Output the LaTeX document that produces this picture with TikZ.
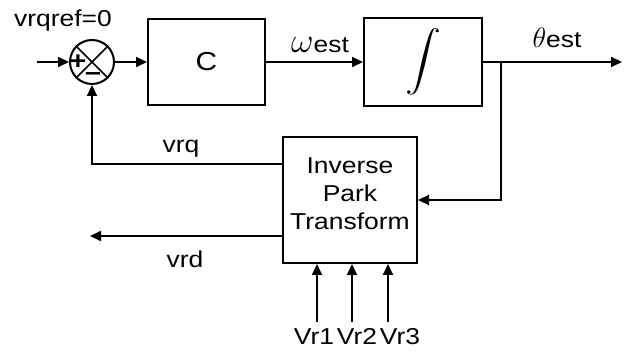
\documentclass[tikz,border=0pt]{standalone}
\usepackage{fontspec}
\setmainfont{Liberation Sans}[FakeStretch=1.15]
\usetikzlibrary{arrows.meta,positioning,calc}

\begin{document}
\begin{tikzpicture}[x=1pt,y=-1pt,
  blk/.style={draw,line width=2pt,inner sep=0pt,align=center,
              font=\fontsize{23}{28}\selectfont},
  arr/.style={-{Triangle[length=11pt,width=10pt]},line width=2pt},
  lbl/.style={font=\fontsize{23}{28}\selectfont,inner sep=0pt,anchor=base},
  sgn/.style={font=\fontsize{25}{25}\selectfont\bfseries,inner sep=0pt},
]
\useasboundingbox (0,0) rectangle (627,352);
\node[draw,circle,line width=2pt,minimum size=44pt,inner sep=0pt] (sum) at (92,62) {};
\draw[line width=1.5pt] (sum.north west) -- (sum.south east);
\draw[line width=1.5pt] (sum.north east) -- (sum.south west);
\node[sgn] (plus) at (78,62) {+};
\node[sgn] (minus) at (93,77) {--};
\node[blk,minimum width=117pt,minimum height=86pt,font=\fontsize{26}{28}\selectfont] (ctrl) at (206.5,62) {C};
\node[blk,minimum width=118pt,minimum height=88pt] (integ) at (423,62)
  {\scalebox{3.6}[3.0]{$\displaystyle\int$}};
\node[blk,minimum width=134pt,minimum height=126pt,text depth=13pt] (park) at (350,200)
  {Inverse\\Park\\Transform};
\node[lbl] (ref) at (63,27) {vrqref=0};
\node[lbl] (west) at (320,53) {\scalebox{1.4}{$\omega$}est};
\node[lbl] (thest) at (557,48) {\scalebox{1.13}{$\theta$}est};
\node[lbl] (vrq) at (181,153) {vrq};
\node[lbl] (vrd) at (185,268) {vrd};
\node[lbl] (vr1) at (314,345) {Vr1};
\node[lbl] (vr2) at (357,345) {Vr2};
\node[lbl] (vr3) at (400,345) {Vr3};
\coordinate (in) at (37,62);
\coordinate (out) at (622,62);
\coordinate (br) at (501,62);
\coordinate (vrdend) at (90,236);
\coordinate (in1) at (317,322);
\coordinate (in2) at (352,322);
\coordinate (in3) at (388,322);
\draw[arr] (in) -- (sum.west);
\draw[arr] (sum) -- (ctrl);
\draw[arr] (ctrl) -- (integ);
\draw[arr] (integ) -- (out);
\draw[arr] (br) |- (park.east);
\draw[arr] ([yshift=36pt]park.west) -| (sum.south);
\draw[arr] ([yshift=-36pt]park.west) -- (vrdend);
\draw[arr] (in1) -- (in1 |- park.south);
\draw[arr] (in2) -- (in2 |- park.south);
\draw[arr] (in3) -- (in3 |- park.south);
\end{tikzpicture}
\end{document}
